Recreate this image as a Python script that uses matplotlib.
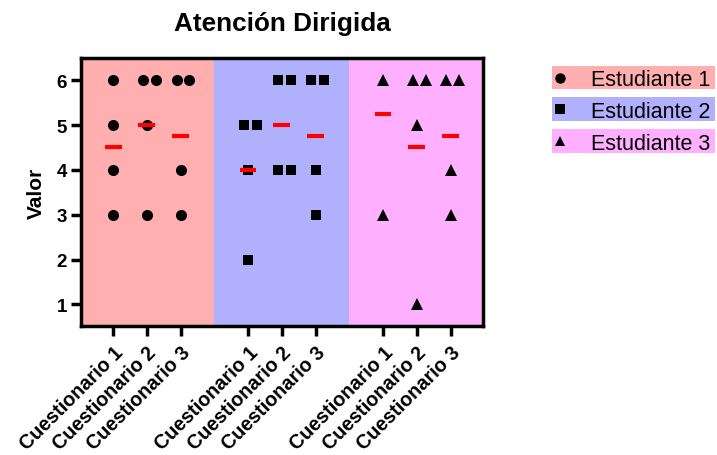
import matplotlib.pyplot as plt
import numpy as np
from matplotlib.patches import Rectangle
from matplotlib.lines import Line2D

plt.rcParams['font.family'] = ['Liberation Sans', 'DejaVu Sans']

# datos: 3 estudiantes x 3 cuestionarios, 4 valores cada uno
estudiantes = ['Estudiante 1', 'Estudiante 2', 'Estudiante 3']
cuestionarios = ['Cuestionario 1', 'Cuestionario 2', 'Cuestionario 3']
est1 = [[6, 5, 4, 3], [6, 6, 5, 3], [6, 6, 4, 3]]
est2 = [[5, 5, 4, 2], [6, 6, 4, 4], [6, 6, 4, 3]]
est3 = [[6, 6, 6, 3], [6, 6, 5, 1], [6, 6, 4, 3]]
datos = [est1, est2, est3]

marcadores = ['o', 's', '^']
tamanos = [8, 7.6, 8.8]
fondos = ['#FFAFAF', '#B0B0FC', '#FFAFFF']

fig = plt.figure(figsize=(7.17, 4.56), dpi=100)
ax = fig.add_axes([0.113, 0.283, 0.561, 0.588])

posiciones = []
for g, est in enumerate(datos):
    ax.axvspan(4 * g - 1, 4 * g + 3, color=fondos[g], zorder=0, lw=0)
    for c, vals in enumerate(est):
        x0 = 4 * g + c
        posiciones.append(x0)
        vals = np.array(vals)
        for v in np.unique(vals):
            n = np.sum(vals == v)
            offs = [-0.12, 0.26] if n == 2 else [0.0]
            for o in offs:
                ax.plot(x0 + o, v, marker=marcadores[g], ms=tamanos[g],
                        color='black', mew=0, ls='none', zorder=3)
        m = vals.mean()
        ax.plot([x0 - 0.25, x0 + 0.25], [m, m], color='red', lw=3,
                solid_capstyle='butt', zorder=4)

ax.set_xlim(-0.95, 10.97)
ax.set_ylim(0.52, 6.5)
ax.set_yticks([1, 2, 3, 4, 5, 6])
ax.set_xticks(posiciones)
ax.set_xticklabels(cuestionarios * 3, rotation=45, ha='right', va='top',
                   rotation_mode='anchor', fontsize=14.2, fontweight='bold')
for lab in ax.get_yticklabels():
    lab.set_fontweight('bold')
    lab.set_fontsize(13.5)
ax.tick_params(direction='out', length=7, width=2.5, pad=3)
ax.tick_params(axis='x', pad=5)
for s in ax.spines.values():
    s.set_linewidth(2.5)

ax.set_ylabel('Valor', fontsize=15, fontweight='bold', labelpad=8)
ax.set_title('Atención Dirigida', fontsize=18.8, fontweight='bold', pad=20)

# leyenda manual con fondos de color
W, H = 717, 456
filas = [(67, 90), (98, 122), (130, 154)]
for i, (y0, y1) in enumerate(filas):
    fig.patches.append(Rectangle((552 / W, 1 - y1 / H), (715 - 552) / W,
                                 (y1 - y0) / H, transform=fig.transFigure,
                                 color=fondos[i], lw=0))
    yc = 1 - (y0 + y1) / 2 / H
    fig.add_artist(Line2D([560 / W], [yc], marker=marcadores[i], ms=7.5,
                          color='black', mew=0, ls='none',
                          transform=fig.transFigure))
    fig.text(591 / W, yc, estudiantes[i], fontsize=15.5, va='center_baseline',
             ha='left')

plt.savefig('out.png', dpi=100)
